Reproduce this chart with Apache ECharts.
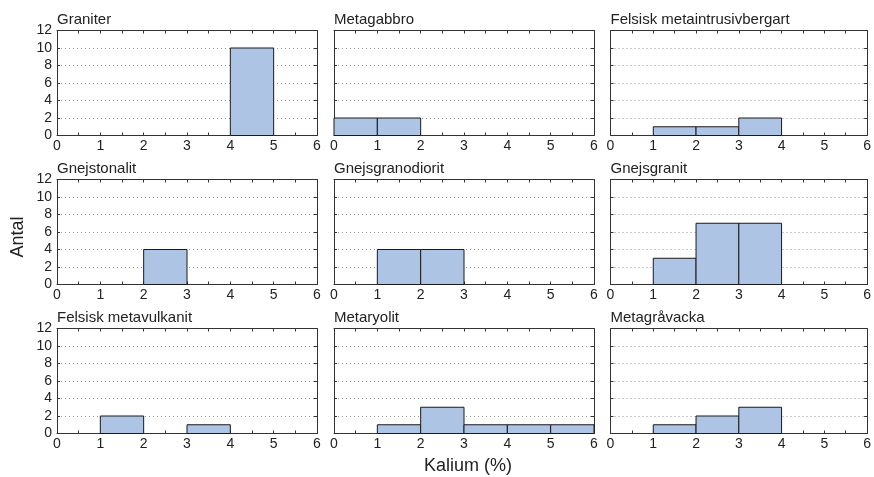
<!DOCTYPE html>
<html>
<head>
<meta charset="utf-8">
<script src="https://cdn.jsdelivr.net/npm/echarts@6/dist/echarts.min.js"></script>
<style>
  html, body { margin: 0; padding: 0; background: #fff; }
  #chart { width: 874px; height: 477px; }
</style>
</head>
<body>
<div id="chart"></div>
<script>
// bin edges (Kalium %) and counts per rock type
const binEdges = [0, 1, 2, 3, 4, 5, 6];
const panelNames = [
  "Graniter", "Metagabbro", "Felsisk metaintrusivbergart",
  "Gnejstonalit", "Gnejsgranodiorit", "Gnejsgranit",
  "Felsisk metavulkanit", "Metaryolit", "Metagråvacka",
];
const graniter = [0, 0, 0, 0, 10, 0];
const metagabbro = [2, 2, 0, 0, 0, 0];
const felsiskMetaintrusiv = [0, 1, 1, 2, 0, 0];
const gnejstonalit = [0, 0, 4, 0, 0, 0];
const gnejsgranodiorit = [0, 4, 4, 0, 0, 0];
const gnejsgranit = [0, 3, 7, 7, 0, 0];
const felsiskMetavulkanit = [0, 2, 0, 1, 0, 0];
const metaryolit = [0, 1, 3, 1, 1, 1];
const metagravacka = [0, 1, 2, 3, 0, 0];
const panelCounts = [
  graniter, metagabbro, felsiskMetaintrusiv,
  gnejstonalit, gnejsgranodiorit, gnejsgranit,
  felsiskMetavulkanit, metaryolit, metagravacka,
];
const yTicks = [0, 2, 4, 6, 8, 10, 12];
const xTicks = [0, 1, 2, 3, 4, 5, 6];

const FONT = "Liberation Sans, Arial, Helvetica, sans-serif";
const colLeft = [57, 334, 610.5];
const colWidth = [260, 260, 259.5];
const rowTop = [30.5, 179.5, 328.5];
const rowHeight = 105;

const chart = echarts.init(document.getElementById("chart"));

const grids = [], xAxes = [], yAxes = [], series = [], titles = [];
const lineStyle = { color: "#333", width: 1 };

panelCounts.forEach((counts, i) => {
  const r = Math.floor(i / 3), c = i % 3;
  grids.push({ left: colLeft[c], top: rowTop[r], width: colWidth[c], height: rowHeight });
  titles.push({
    text: panelNames[i], left: colLeft[c], top: rowTop[r] - 18,
    textStyle: { fontFamily: FONT, fontSize: 15, fontWeight: "normal", color: "#222" },
    padding: 0,
  });
  const xBase = {
    type: "value", gridIndex: i, min: xTicks[0], max: xTicks[xTicks.length - 1], interval: 0.5,
    axisLine: { show: true, onZero: false, lineStyle },
    axisTick: { show: true, inside: true, length: 3, lineStyle },
    splitLine: { show: false },
  };
  xAxes.push(Object.assign({}, xBase, {
    position: "bottom",
    axisLabel: {
      fontFamily: FONT, fontSize: 14, color: "#222", margin: 4,
      formatter: (v) => (Number.isInteger(v) ? String(v) : ""),
    },
  }));
  xAxes.push(Object.assign({}, xBase, { position: "top", axisLabel: { show: false } }));
  const yBase = {
    type: "value", gridIndex: i, min: yTicks[0], max: yTicks[yTicks.length - 1], interval: 2,
    axisLine: { show: true, onZero: false, lineStyle },
    axisTick: { show: true, inside: true, length: 3, lineStyle },
  };
  yAxes.push(Object.assign({}, yBase, {
    position: "left",
    axisLabel: { show: c === 0, fontFamily: FONT, fontSize: 14, color: "#222", margin: 5 },
    splitLine: { show: true, lineStyle: { color: "#999", width: 1, type: [1, 3] } },
  }));
  yAxes.push(Object.assign({}, yBase, {
    position: "right", axisLabel: { show: false }, splitLine: { show: false },
  }));

  const data = [];
  counts.forEach((v, b) => {
    if (v > 0) data.push([binEdges[b], binEdges[b + 1], v]);
  });
  series.push({
    type: "custom",
    xAxisIndex: i * 2,
    yAxisIndex: i * 2,
    encode: { x: [0, 1], y: 2 },
    data,
    renderItem: (params, api) => {
      const p0 = api.coord([api.value(0), api.value(2)]);
      const p1 = api.coord([api.value(1), 0]);
      return {
        type: "rect",
        shape: { x: p0[0], y: p0[1], width: p1[0] - p0[0], height: p1[1] - p0[1] },
        style: { fill: "#aec4e5", stroke: "#1a1a1a", lineWidth: 1 },
      };
    },
  });
});

chart.setOption({
  animation: false,
  backgroundColor: "#fff",
  title: titles,
  grid: grids,
  xAxis: xAxes,
  yAxis: yAxes,
  series,
  graphic: [
    {
      type: "text", x: 18, y: 237, rotation: Math.PI / 2,
      style: { text: "Antal", font: "18px " + FONT, fill: "#222", align: "center", verticalAlign: "middle" },
    },
    {
      type: "text", x: 468, y: 466,
      style: { text: "Kalium (%)", font: "18px " + FONT, fill: "#222", align: "center", verticalAlign: "middle" },
    },
  ],
});
</script>
</body>
</html>
